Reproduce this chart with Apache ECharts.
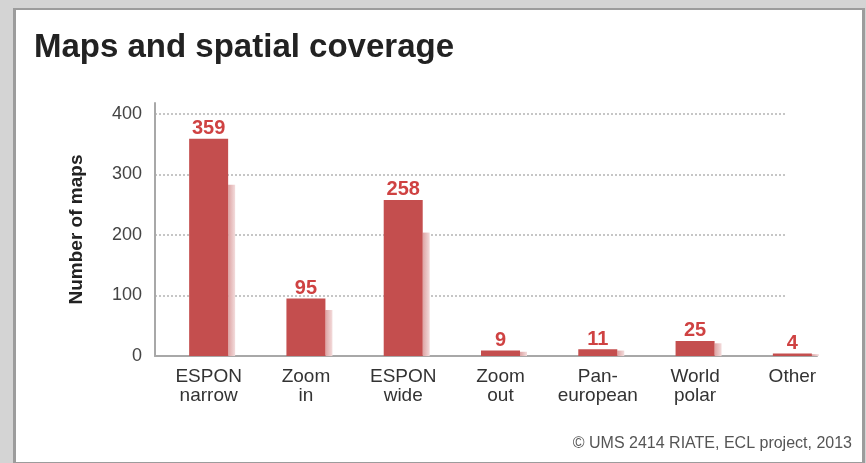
<!DOCTYPE html>
<html>
<head>
<meta charset="utf-8">
<script src="https://cdn.jsdelivr.net/npm/echarts@6/dist/echarts.min.js"></script>
<style>
  html, body { margin: 0; padding: 0; background: #d4d4d4; }
  .card {
    position: absolute; left: 13px; top: 8px; width: 846px; height: 452px;
    background: #fff; border: 3px solid #9c9c9c; border-top-width: 2px;
  }
  #chart { position: absolute; left: 0; top: 0; width: 866px; height: 463px; }
</style>
</head>
<body>
<div class="card"></div>
<div id="chart"></div>
<script>
// categories and counts
var categories = ["ESPON\nnarrow", "Zoom\nin", "ESPON\nwide", "Zoom\nout", "Pan-\neuropean", "World\npolar", "Other"];
var mapCounts = [359, 95, 258, 9, 11, 25, 4];
// height of the pale "shadow" strip drawn right of each bar (estimated)
var shadowHeights = [283, 76, 204, 7, 9, 21, 3];
var yMin = 0, yMax = 400, yStep = 100;

var font = "'Liberation Sans', Arial, sans-serif";
var chart = echarts.init(document.getElementById("chart"));

chart.setOption({
  backgroundColor: "transparent",
  animation: false,
  title: [
    {
      text: "Maps and spatial coverage",
      left: 34, top: 31, padding: 0,
      textStyle: { fontFamily: font, fontSize: 33, fontWeight: "bold", color: "#222" }
    },
    {
      text: "© UMS 2414 RIATE, ECL project, 2013",
      right: 14, bottom: 11, padding: 0,
      textStyle: { fontFamily: font, fontSize: 16, fontWeight: "normal", color: "#555" }
    }
  ],
  grid: [
    { left: 160, width: 681, top: 114, height: 242 }, // bars
    { left: 183, width: 681, top: 114, height: 242 }, // shadows
    { left: 155, width: 632, top: 114, height: 242 }, // y labels + dotted lines
    { left: 155, width: 662, top: 103, height: 253 }  // axis lines
  ],
  xAxis: [
    {
      gridIndex: 0, type: "category", data: categories,
      axisLine: { show: false }, axisTick: { show: false },
      axisLabel: { margin: 11, fontFamily: font, fontSize: 19, lineHeight: 19, color: "#333", interval: 0 }
    },
    { gridIndex: 1, type: "category", data: categories, show: false },
    { gridIndex: 2, type: "value", show: false },
    {
      gridIndex: 3, type: "value", min: 0, max: 1,
      axisLine: { show: true, onZero: false, lineStyle: { color: "#a8a8a8", width: 2 } },
      axisTick: { show: false }, axisLabel: { show: false }, splitLine: { show: false }
    }
  ],
  yAxis: [
    { gridIndex: 0, type: "value", min: yMin, max: yMax, show: false },
    { gridIndex: 1, type: "value", min: yMin, max: yMax, show: false },
    {
      gridIndex: 2, type: "value", min: yMin, max: yMax, interval: yStep,
      axisLine: { show: false }, axisTick: { show: false },
      axisLabel: { margin: 13, fontFamily: font, fontSize: 18, color: "#444" },
      splitLine: { show: true, lineStyle: { color: "#b4b4b4", width: 1.5, type: [2, 2] } }
    },
    {
      gridIndex: 3, type: "value", min: 0, max: 1,
      axisLine: { show: true, onZero: false, lineStyle: { color: "#a8a8a8", width: 2 } },
      axisTick: { show: false }, axisLabel: { show: false }, splitLine: { show: false },
      name: "Number of maps", nameLocation: "middle", nameGap: 69, nameRotate: 90,
      nameTextStyle: { fontFamily: font, fontSize: 19, fontWeight: "bold", color: "#222" }
    }
  ],
  series: [
    {
      type: "bar", xAxisIndex: 1, yAxisIndex: 1,
      data: shadowHeights, barWidth: 7, silent: true, z: 1,
      itemStyle: {
        color: new echarts.graphic.LinearGradient(0, 0, 1, 0, [
          { offset: 0, color: "#dda3a3" },
          { offset: 1, color: "#f3dcdc" }
        ])
      }
    },
    {
      type: "bar", xAxisIndex: 0, yAxisIndex: 0,
      data: mapCounts, barWidth: 39, z: 2,
      itemStyle: { color: "#c44e4e" },
      label: {
        show: true, position: "top", distance: 0,
        fontFamily: font, fontSize: 20, fontWeight: "bold", color: "#cf4242"
      }
    }
  ]
});
</script>
</body>
</html>
